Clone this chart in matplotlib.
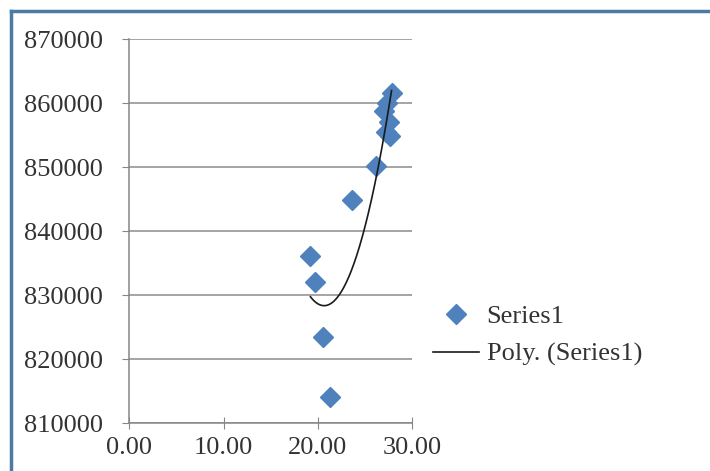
import numpy as np
import matplotlib.pyplot as plt
from matplotlib.lines import Line2D

# data
x_vals = [27.8, 27.3, 27.0, 27.5, 27.2, 27.6, 26.2, 23.6, 19.2, 19.7, 20.5, 21.3]
y_vals = [861500, 860000, 858800, 857000, 855500, 854800, 850200, 844800,
          836100, 832100, 823500, 814000]
x_ticks = [0, 10, 20, 30]
y_ticks = [810000, 820000, 830000, 840000, 850000, 860000, 870000]

plt.rcParams['font.family'] = ['Liberation Serif', 'DejaVu Serif']

fig = plt.figure(figsize=(7.1, 4.71), dpi=100)
ax = fig.add_axes([129.3/710, 1-423/471, (412.3-129.3)/710, (423-39)/471])

x = np.array(x_vals)
y = np.array(y_vals)

# polynomial trend line (order 2), like Excel's "Poly."
coef = np.polyfit(x, y, 2)
xx = np.linspace(x.min(), x.max(), 200)
ax.plot(xx, np.polyval(coef, xx), color='#1a1a1a', lw=1.2, zorder=3,
        label='Poly. (Series1)')
ax.plot(x, y, 'D', color='#4F81BD', ms=10, mec='#4F81BD', ls='none', zorder=2,
        label='Series1')

ax.set_xlim(0, 30)
ax.set_ylim(810000, 870000)
ax.set_xticks(x_ticks)
ax.set_xticklabels(['%.2f' % v for v in x_ticks])
ax.set_yticks(y_ticks)
ax.set_yticklabels([str(v) for v in y_ticks])
ax.grid(axis='y', color='#8c8c8c', lw=1.1)
ax.set_axisbelow(True)
for s in ['top', 'right']:
    ax.spines[s].set_visible(False)
for s in ['left', 'bottom']:
    ax.spines[s].set_color('#868686')
    ax.spines[s].set_linewidth(1.1)
ax.tick_params(axis='y', length=5, color='#868686', pad=14, labelsize=19,
               labelcolor='#333333')
ax.tick_params(axis='x', direction='inout', length=8, color='#868686', pad=6,
               labelsize=19, labelcolor='#333333')

h, l = ax.get_legend_handles_labels()
leg = fig.legend(h[::-1], l[::-1], loc='upper left', bbox_to_anchor=(422/710, 1-294/471),
                 frameon=False, fontsize=19, labelspacing=0.55, handlelength=1.75,
                 handletextpad=0.3, borderaxespad=0)
for t in leg.get_texts():
    t.set_color('#333333')

# blue outer frame
fig.add_artist(Line2D([11/710, 11/710], [0, 1-11/471], color='#4a7aa6', lw=2.5))
fig.add_artist(Line2D([11/710, 1], [1-11/471, 1-11/471], color='#4a7aa6', lw=2.5))

fig.savefig('out.png', dpi=100)
